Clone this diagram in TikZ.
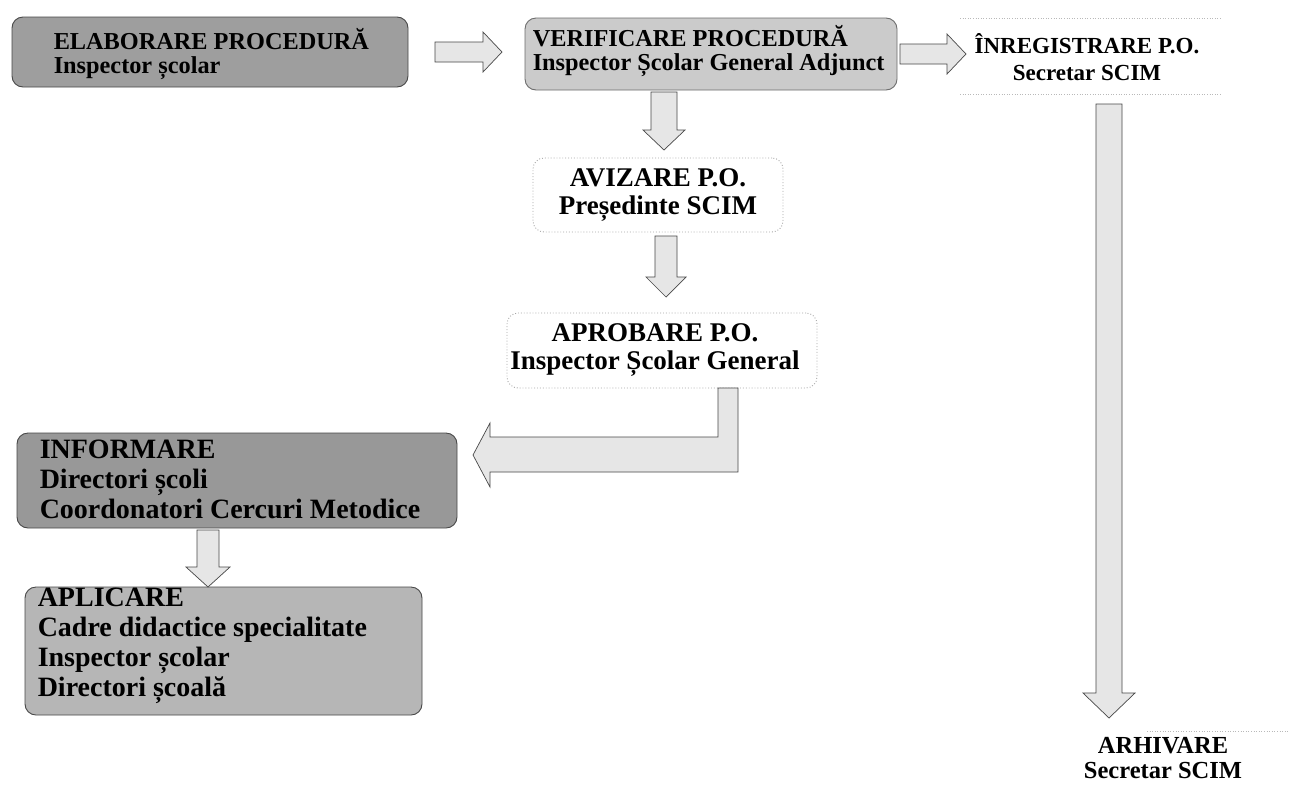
\documentclass[tikz,border=0pt]{standalone}
\usepackage{fontspec}
\setmainfont{Liberation Serif}
\usetikzlibrary{calc}
\definecolor{darkfill}{HTML}{9E9E9E}
\definecolor{infofill}{HTML}{989898}
\definecolor{midfill}{HTML}{B6B6B6}
\definecolor{lightfill}{HTML}{CBCBCB}
\definecolor{arrowfill}{HTML}{E6E6E6}
\definecolor{edge}{HTML}{484848}
\newcommand{\HArrowR}[6]{% xs xt yc shaft head headlen
  \draw[blockarrow] (#1,#3-#4) -- (#2-#6,#3-#4) -- (#2-#6,#3-#5) -- (#2,#3)
    -- (#2-#6,#3+#5) -- (#2-#6,#3+#4) -- (#1,#3+#4) -- cycle;}
\newcommand{\VArrowD}[6]{% xc ys yt shaft head headlen
  \draw[blockarrow] (#1-#4,#2) -- (#1+#4,#2) -- (#1+#4,#3-#6) -- (#1+#5,#3-#6)
    -- (#1,#3) -- (#1-#5,#3-#6) -- (#1-#4,#3-#6) -- cycle;}
\tikzset{
  blockarrow/.style={draw=edge, line width=0.7pt, fill=arrowfill, line join=miter},
  boxbase/.style={rounded corners=11pt, line width=0.9pt, anchor=center, inner sep=0pt},
  txtA/.style={font=\bfseries\fontsize{24.3}{24.5}\selectfont, inner sep=0pt},
  txtB/.style={font=\bfseries\fontsize{27}{28}\selectfont, inner sep=0pt},
  txtC/.style={font=\bfseries\fontsize{28}{30}\selectfont, inner sep=0pt},
  txtR/.style={font=\bfseries\fontsize{23}{27}\selectfont, inner sep=0pt},
  darkbox/.style={boxbase, draw=edge, fill=darkfill},
  infobox/.style={boxbase, draw=edge, fill=infofill},
  midbox/.style={boxbase, draw=edge, fill=midfill},
  lightbox/.style={boxbase, draw=edge!80, fill=lightfill},
  whitebox/.style={boxbase, draw=gray!70, dotted, fill=white},
  lefttxt/.style={anchor=west, align=left},
  centertxt/.style={anchor=center, align=center},
  faintdot/.style={draw=gray!55, dotted, line width=0.6pt}
}
\begin{document}
\begin{tikzpicture}[x=1pt,y=-1pt]
\useasboundingbox (0,0) rectangle (1289,793);
\fill[white] (0,0) rectangle (1289,793);

% ---- top row
\node[darkbox, minimum width=396pt, minimum height=70pt] (elab) at (210,52) {};
\node[lefttxt, txtA] (elabt) at ($(elab.west)+(42,2)$) {ELABORARE PROCEDURĂ\\Inspector școlar};

\node[lightbox, minimum width=372pt, minimum height=72pt] (ver) at (711,54) {};
\node[lefttxt, txtA] (vert) at ($(ver.west)+(8,-3)$) {VERIFICARE PROCEDURĂ\\Inspector Școlar General Adjunct};

\node[centertxt, txtR] (inreg) at (1087,57) {ÎNREGISTRARE P.O.\\Secretar SCIM};
\coordinate (inregNW) at (960,18);
\coordinate (inregNE) at (1222,18);
\coordinate (inregSW) at (960,94);
\coordinate (inregSE) at (1222,94);
\draw[faintdot] (inregNW) -- (inregNE);
\draw[faintdot] (inregSW) -- (inregSE);

% ---- middle column
\node[whitebox, minimum width=250pt, minimum height=74pt] (aviz) at (658,195) {};
\node[centertxt, txtB] (avizt) at (aviz.center) {AVIZARE P.O.\\Președinte SCIM};
\node[whitebox, minimum width=310pt, minimum height=75pt] (aprob) at (662,350.5) {};
\node[centertxt, txtB] (aprobt) at ($(aprob.center)+(-7,0)$) {APROBARE P.O.\\Inspector Școlar General};

% ---- left column
\node[infobox, minimum width=440pt, minimum height=95pt] (inform) at (237,480.5) {};
\node[lefttxt, txtC] (informt) at ($(inform.west)+(23,-1)$) {INFORMARE\\Directori școli\\Coordonatori Cercuri Metodice};
\node[midbox, minimum width=397pt, minimum height=128pt] (aplic) at (223.5,651) {};
\node[lefttxt, txtC] (aplict) at ($(aplic.west)+(13,-5)$) {APLICARE\\Cadre didactice specialitate\\Inspector școlar\\Directori școală};

% ---- archive
\node[centertxt, font=\bfseries\fontsize{24.5}{25}\selectfont, inner sep=0pt] (arhiv) at (1163,758) {ARHIVARE\\Secretar SCIM};
\coordinate (arhivL) at (1147,731);
\coordinate (arhivR) at (1289,731);
\draw[faintdot] (arhivL) -- (arhivR);

% ---- arrows
\HArrowR{435}{502}{52}{10}{20}{19}
\HArrowR{900}{966}{54}{10}{20}{19}
\VArrowD{664}{92}{150}{13}{21}{20}
\VArrowD{666}{236}{297}{11}{20}{20}
\VArrowD{1109}{104}{718}{13}{26}{25}
\VArrowD{208}{530}{587}{11}{22}{20}
\draw[blockarrow] (718,388) -- (738,388) -- (738,472) -- (490,472) -- (490,487)
  -- (473,455) -- (490,423) -- (490,437) -- (718,437) -- cycle;
\end{tikzpicture}
\end{document}
